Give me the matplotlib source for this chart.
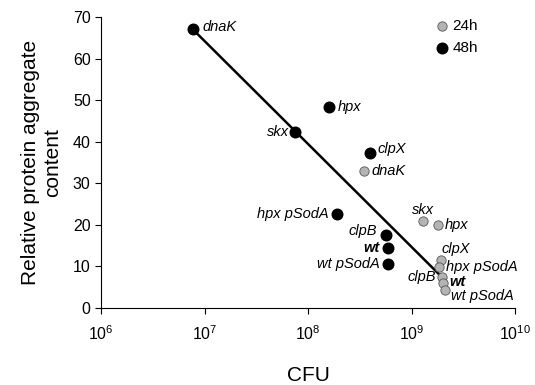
import numpy as np
import matplotlib
matplotlib.use('Agg')
import matplotlib.pyplot as plt

plt.rcParams['font.family'] = ['Liberation Sans', 'DejaVu Sans']

# 48h (negro)
names_48 = ['dnaK', 'hpx', 'skx', 'clpX', 'hpx pSodA', 'clpB', 'wt', 'wt pSodA']
cfu_48 = [7.7e6, 1.6e8, 7.4e7, 4.0e8, 1.9e8, 5.6e8, 5.9e8, 5.9e8]
agg_48 = [67.0, 48.4, 42.4, 37.3, 22.6, 17.6, 14.4, 10.6]

# 24h (gris)
names_24 = ['dnaK', 'skx', 'hpx', 'clpX', 'hpx pSodA', 'clpB', 'wt', 'wt pSodA']
cfu_24 = [3.5e8, 1.3e9, 1.8e9, 1.9e9, 1.85e9, 1.95e9, 2.0e9, 2.1e9]
agg_24 = [33.0, 21.0, 20.0, 11.6, 9.8, 7.5, 6.0, 4.3]

# recta de regresion
line_cfu = [7.7e6, 2.0e9]
line_agg = [67.0, 7.2]

# posicion de las etiquetas (dx, dy en puntos, alineacion)
lab_48 = [(7, 2, 'left'), (6, 0, 'left'), (-4, 0, 'right'), (5, 3, 'left'),
          (-6, 0, 'right'), (-6, 3, 'right'), (-6, 0, 'right'), (-6, 0, 'right')]
lab_24 = [(5, 0, 'left'), (0, 8, 'center'), (5, 0, 'left'), (1, 8, 'left'),
          (5, 0, 'left'), (-4, 0, 'right'), (5, 1, 'left'), (4, -4, 'left')]

fig = plt.figure(figsize=(5.35, 3.85), dpi=100)
ax = fig.add_axes([0.189, 0.2, 0.774, 0.756])

ax.plot(line_cfu, line_agg, color='black', lw=1.8, zorder=1)
g = ax.scatter(cfu_24, agg_24, s=45, color='#b4b4b4', edgecolors='#555555',
               linewidths=0.6, zorder=2, label='24h')
b = ax.scatter(cfu_48, agg_48, s=58, color='black', zorder=3, label='48h')

for names, xs, ys, labs in [(names_48, cfu_48, agg_48, lab_48),
                            (names_24, cfu_24, agg_24, lab_24)]:
    for n, x, y, (dx, dy, ha) in zip(names, xs, ys, labs):
        w = 'bold' if n == 'wt' else 'normal'
        ax.annotate(n, (x, y), xytext=(dx, dy), textcoords='offset points',
                    ha=ha, va='center', style='italic', fontweight=w,
                    fontsize=10.5)

ax.set_xscale('log')
ax.set_xlim(1e6, 1e10)
ax.set_ylim(0, 70)
ax.set_yticks(range(0, 71, 10))
ax.set_xticks([1e6, 1e7, 1e8, 1e9, 1e10])
ax.minorticks_off()
ax.tick_params(labelsize=11.5, length=4, width=0.8)
ax.tick_params(axis='x', pad=8)
ax.spines['top'].set_visible(False)
ax.spines['right'].set_visible(False)

ax.set_xlabel('CFU', fontsize=15, labelpad=16)
ax.set_ylabel('Relative protein aggregate\ncontent', fontsize=15, labelpad=8)

ax.legend(handles=[g, b], loc='upper left', bbox_to_anchor=(0.775, 1.03),
          frameon=False, fontsize=11, handletextpad=0.1, labelspacing=0.55,
          borderpad=0.2, handlelength=1.2)

fig.savefig('out.png', dpi=100)
